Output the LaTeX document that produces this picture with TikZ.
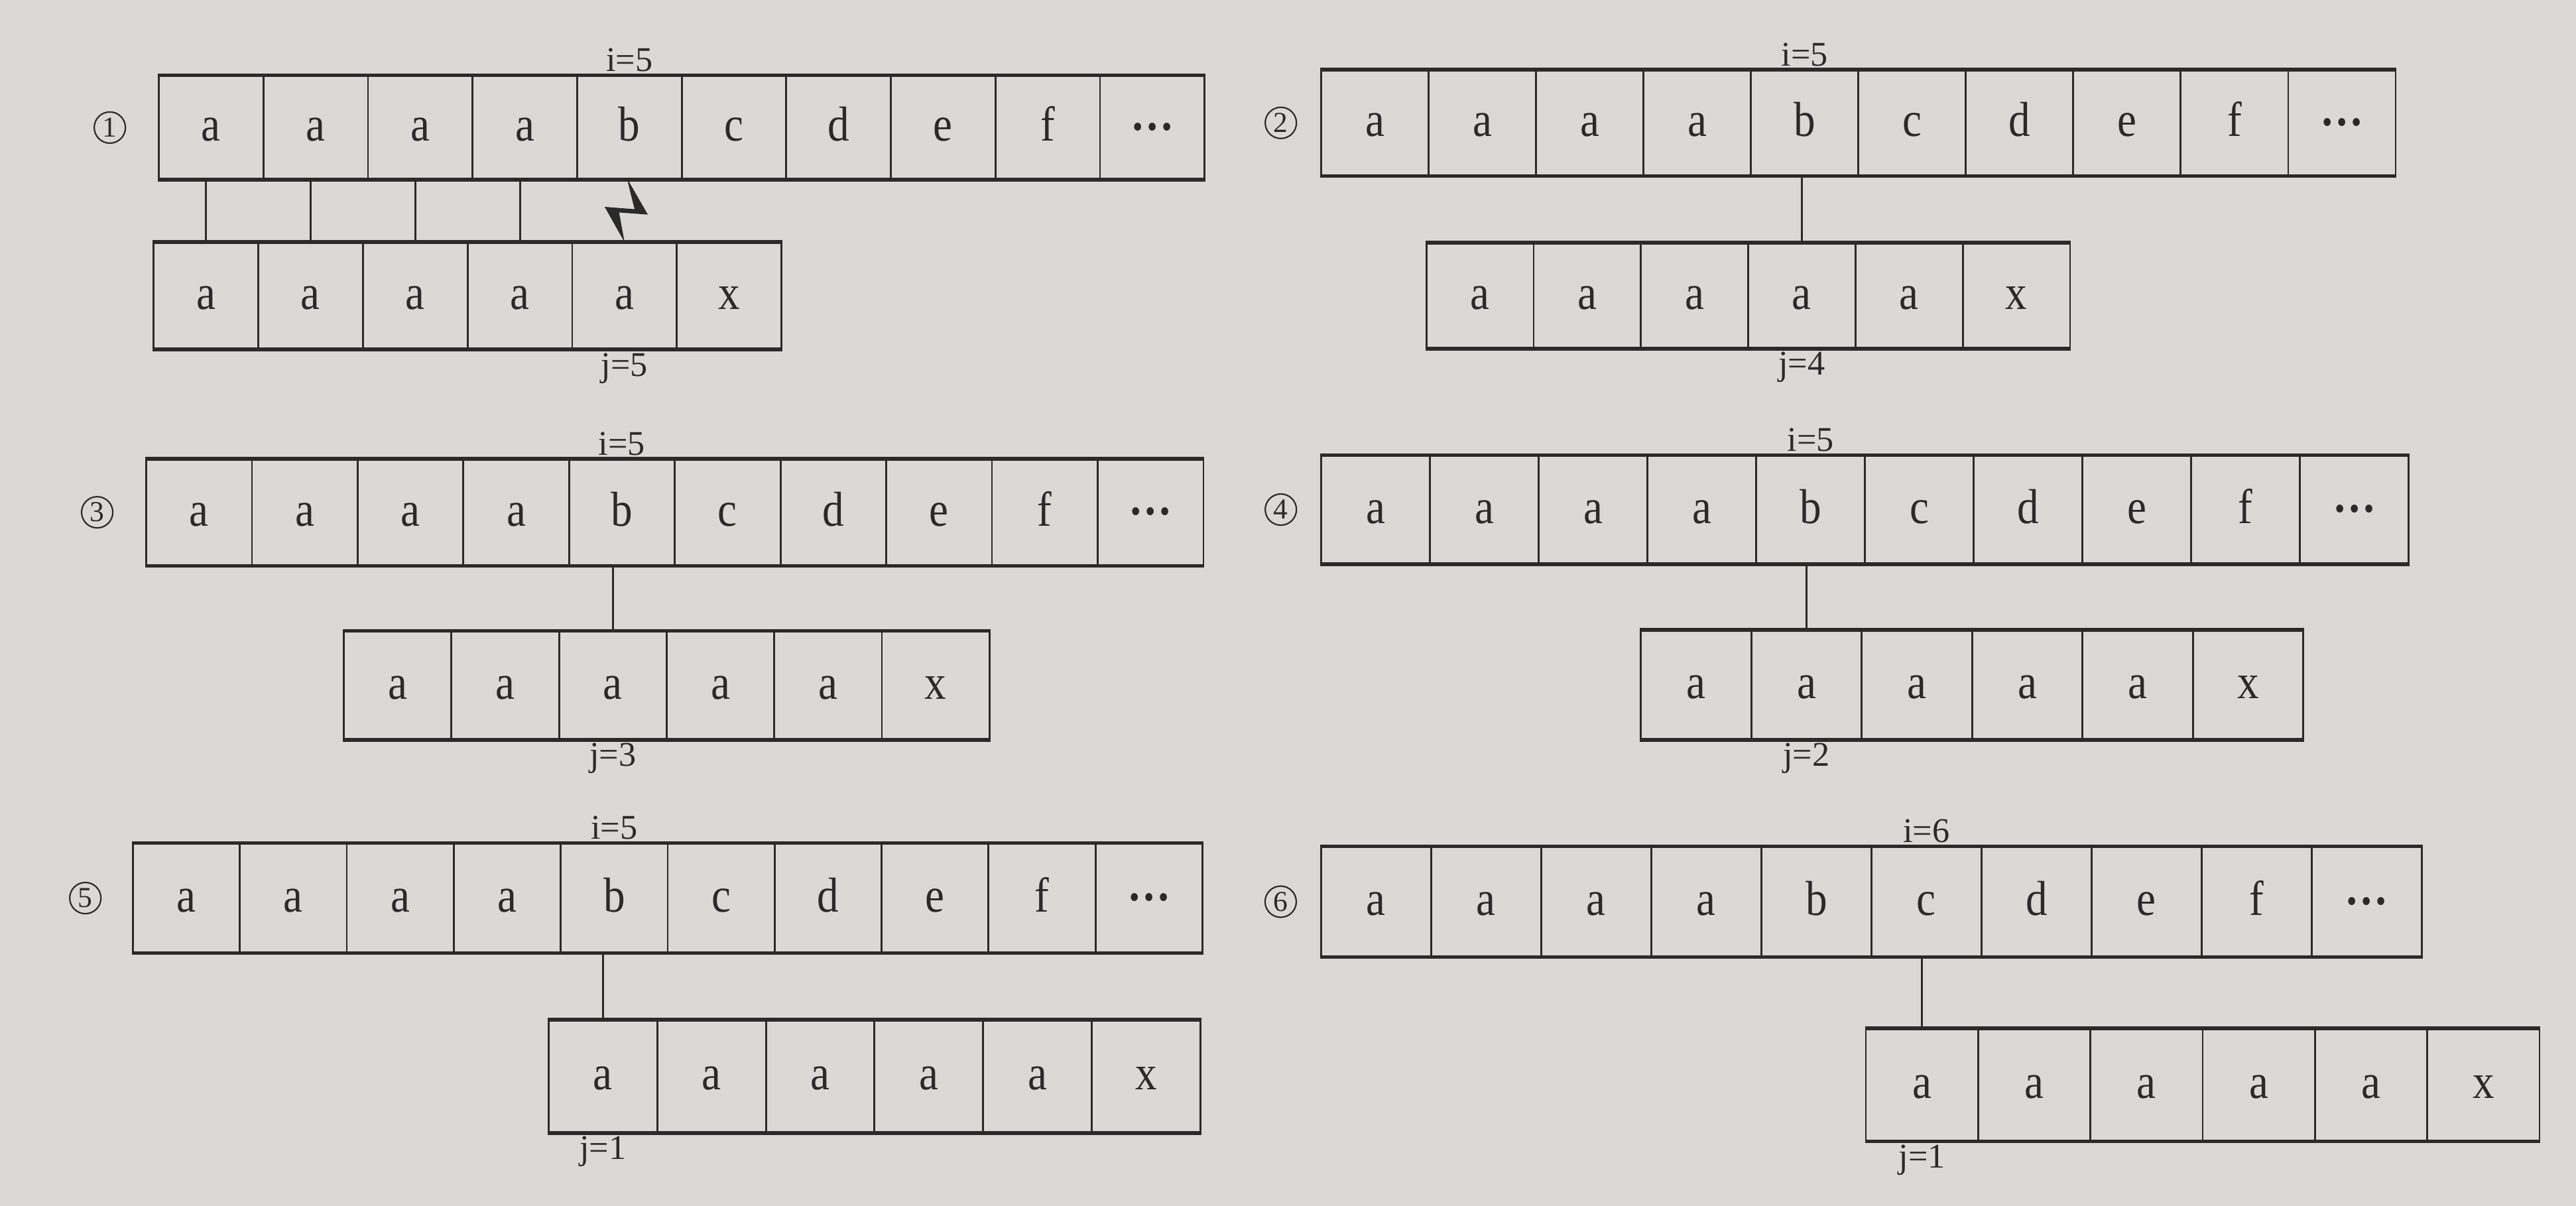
\documentclass[tikz,border=0pt]{standalone}
\usepackage{fontspec}
\setmainfont{Liberation Serif}
\newfontfamily\cellfont[FakeStretch=0.88]{Liberation Serif}
\usetikzlibrary{positioning}
\definecolor{paperColor}{HTML}{DAD9D5}
\definecolor{inkColor}{HTML}{2A2A2A}
\def\pxu{0.2mm}
\def\moreDots{{\bfseries\raisebox{0.22em}{…}}}
\def\mainStr{a,a,a,a,b,c,d,e,f,\moreDots}
\def\patStr{a,a,a,a,a,x}
\tikzset{
  cell/.style 2 args={draw=inkColor, line width=0.65pt, inner sep=0pt,
    minimum width={#1*\pxu}, minimum height={#2*\pxu},
    text height={18*\pxu}, text depth={1.4*\pxu},
    font=\cellfont\fontsize{17}{20}\selectfont, text=inkColor},
  rowline/.style={draw=inkColor, line width=1.3pt},
  link/.style={draw=inkColor, line width=0.7pt},
  idx/.style={font=\fontsize{12}{14}\selectfont, text=inkColor, inner sep=1pt},
  tag/.style={circle, draw=inkColor, line width=0.5pt, inner sep=0pt,
    minimum size={19*\pxu}, font=\fontsize{10}{12}\selectfont, text=inkColor},
}

\begin{document}
\begin{tikzpicture}[x=0.2mm,y=-0.2mm]

% paper
\fill[paperColor] (0,0) rectangle (1568,734);
\useasboundingbox (0,0) rectangle (1568,734);

% panel 1
\begin{scope}[shift={(96.7,46.4)}]
\foreach \c [count=\k] in \mainStr
\node[cell={63.65}{62.5}] (m1-\k) at ({(\k-0.5)*63.65}, 31.25) {\c};
\end{scope}
\begin{scope}[shift={(93.5,148)}]
\foreach \c [count=\k] in \patStr
\node[cell={63.7}{64.2}] (p1-\k) at ({(\k-0.5)*63.7}, 32.1) {\c};
\end{scope}
\draw[rowline] (m1-1.north west) -- (m1-10.north east);
\draw[rowline] (m1-1.south west) -- (m1-10.south east);
\draw[rowline] (p1-1.north west) -- (p1-6.north east);
\draw[rowline] (p1-1.south west) -- (p1-6.south east);
\node[tag, left=11pt of m1-1] (n1) {1};
\node[idx, anchor=south] (i1) at (m1-5.north) {i=5};
\node[idx, anchor=north] (j1) at (p1-5.south) {j=5};
\foreach \k in {1,...,4}
\draw[link] (p1-\k.north) -- (p1-\k.north |- m1-\k.south);
\fill[inkColor] (p1-5.north) -- ++(-12.1,-21.5) -- ++(18.2,1.4)
-- ++(-4.7,-18.9) -- ++(12.8,22.2) -- ++(-17.5,-1.3) -- cycle;

% panel 2
\begin{scope}[shift={(804.2,43)}]
\foreach \c [count=\k] in \mainStr
\node[cell={65.4}{63.6}] (m2-\k) at ({(\k-0.5)*65.4}, 31.8) {\c};
\end{scope}
\begin{scope}[shift={(868.2,148.2)}]
\foreach \c [count=\k] in \patStr
\node[cell={65.3}{63.4}] (p2-\k) at ({(\k-0.5)*65.3}, 31.7) {\c};
\end{scope}
\draw[rowline] (m2-1.north west) -- (m2-10.north east);
\draw[rowline] (m2-1.south west) -- (m2-10.south east);
\draw[rowline] (p2-1.north west) -- (p2-6.north east);
\draw[rowline] (p2-1.south west) -- (p2-6.south east);
\node[tag, left=8pt of m2-1] (n2) {2};
\node[idx, anchor=south] (i2) at (m2-5.north) {i=5};
\node[idx, anchor=north] (j2) at (p2-4.south) {j=4};
\draw[link] (p2-4.north) -- (p2-4.north |- m2-5.south);

% panel 3
\begin{scope}[shift={(89,279.8)}]
\foreach \c [count=\k] in \mainStr
\node[cell={64.35}{64.1}] (m3-\k) at ({(\k-0.5)*64.35}, 32.05) {\c};
\end{scope}
\begin{scope}[shift={(209.3,384.6)}]
\foreach \c [count=\k] in \patStr
\node[cell={65.5}{65.3}] (p3-\k) at ({(\k-0.5)*65.5}, 32.65) {\c};
\end{scope}
\draw[rowline] (m3-1.north west) -- (m3-10.north east);
\draw[rowline] (m3-1.south west) -- (m3-10.south east);
\draw[rowline] (p3-1.north west) -- (p3-6.north east);
\draw[rowline] (p3-1.south west) -- (p3-6.south east);
\node[tag, left=11pt of m3-1] (n3) {3};
\node[idx, anchor=south] (i3) at (m3-5.north) {i=5};
\node[idx, anchor=north] (j3) at (p3-3.south) {j=3};
\draw[link] (p3-3.north) -- (p3-3.north |- m3-5.south);

% panel 4
\begin{scope}[shift={(804.2,277.6)}]
\foreach \c [count=\k] in \mainStr
\node[cell={66.2}{65.2}] (m4-\k) at ({(\k-0.5)*66.2}, 32.6) {\c};
\end{scope}
\begin{scope}[shift={(998.8,384)}]
\foreach \c [count=\k] in \patStr
\node[cell={67.2}{65.9}] (p4-\k) at ({(\k-0.5)*67.2}, 32.95) {\c};
\end{scope}
\draw[rowline] (m4-1.north west) -- (m4-10.north east);
\draw[rowline] (m4-1.south west) -- (m4-10.south east);
\draw[rowline] (p4-1.north west) -- (p4-6.north east);
\draw[rowline] (p4-1.south west) -- (p4-6.south east);
\node[tag, left=8pt of m4-1] (n4) {4};
\node[idx, anchor=south] (i4) at (m4-5.north) {i=5};
\node[idx, anchor=north] (j4) at (p4-2.south) {j=2};
\draw[link] (p4-2.north) -- (p4-2.north |- m4-5.south);

% panel 5
\begin{scope}[shift={(80.9,513.8)}]
\foreach \c [count=\k] in \mainStr
\node[cell={65.1}{65.8}] (m5-\k) at ({(\k-0.5)*65.1}, 32.9) {\c};
\end{scope}
\begin{scope}[shift={(334,621.3)}]
\foreach \c [count=\k] in \patStr
\node[cell={66.1}{67.8}] (p5-\k) at ({(\k-0.5)*66.1}, 33.9) {\c};
\end{scope}
\draw[rowline] (m5-1.north west) -- (m5-10.north east);
\draw[rowline] (m5-1.south west) -- (m5-10.south east);
\draw[rowline] (p5-1.north west) -- (p5-6.north east);
\draw[rowline] (p5-1.south west) -- (p5-6.south east);
\node[tag, left=10.5pt of m5-1] (n5) {5};
\node[idx, anchor=south] (i5) at (m5-5.north) {i=5};
\node[idx, anchor=north] (j5) at (p5-1.south) {j=1};
\draw[link] (p5-1.north) -- (p5-1.north |- m5-5.south);

% panel 6
\begin{scope}[shift={(804.1,515.8)}]
\foreach \c [count=\k] in \mainStr
\node[cell={67}{66.2}] (m6-\k) at ({(\k-0.5)*67}, 33.1) {\c};
\end{scope}
\begin{scope}[shift={(1135.7,626.5)}]
\foreach \c [count=\k] in \patStr
\node[cell={68.35}{67.7}] (p6-\k) at ({(\k-0.5)*68.35}, 33.85) {\c};
\end{scope}
\draw[rowline] (m6-1.north west) -- (m6-10.north east);
\draw[rowline] (m6-1.south west) -- (m6-10.south east);
\draw[rowline] (p6-1.north west) -- (p6-6.north east);
\draw[rowline] (p6-1.south west) -- (p6-6.south east);
\node[tag, left=8pt of m6-1] (n6) {6};
\node[idx, anchor=south] (i6) at (m6-6.north) {i=6};
\node[idx, anchor=north] (j6) at (p6-1.south) {j=1};
\draw[link] (p6-1.north) -- (p6-1.north |- m6-6.south);

\end{tikzpicture}
\end{document}
